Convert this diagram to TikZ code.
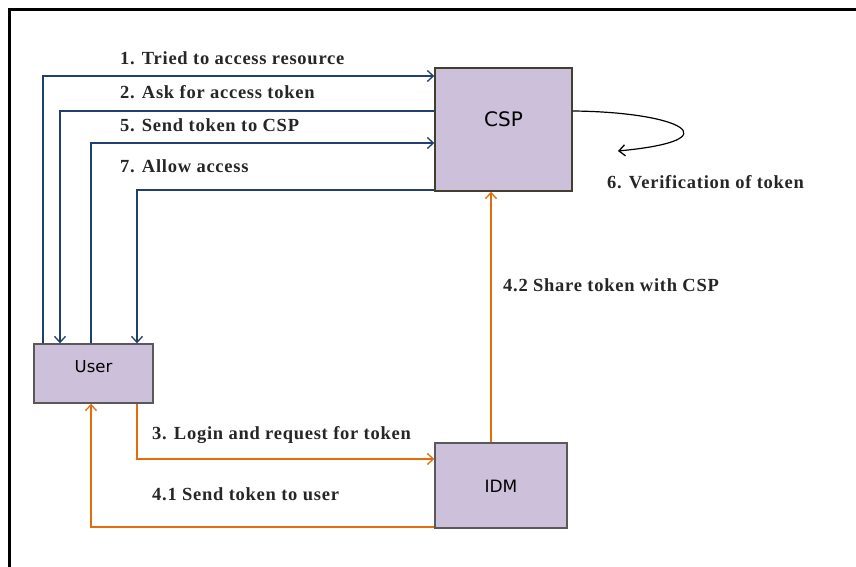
\documentclass[tikz,border=0pt]{standalone}
\usepackage{fontspec}
\setmainfont{Liberation Serif}[LetterSpace=4]
\setsansfont{DejaVu Sans}
\usetikzlibrary{arrows.meta}
\definecolor{navy}{HTML}{1F3F6E}
\definecolor{orng}{HTML}{E46C0A}
\definecolor{lav}{HTML}{CCC0DA}
\definecolor{boxedge}{HTML}{595959}
\tikzset{
  ent/.style={draw=boxedge, line width=1.4pt, fill=lav, inner sep=0pt},
  blu/.style={draw=navy, line width=1.4pt},
  ora/.style={draw=orng, line width=1.6pt},
  tip/.style={-{Straight Barb[length=6pt,width=11pt,line width=1.3pt]}},
  lbl/.style={anchor=west, inner sep=0pt, font=\bfseries\fontsize{18.5}{20}\selectfont, text=black!85}
}
\begin{document}
\begin{tikzpicture}[x=1pt,y=-1pt]
\useasboundingbox (0,0) rectangle (856,567);
% partial frame
\draw[line width=3pt] (9,567) -- (9,10) -- (860,10);
% entities
\node[ent, minimum width=137pt, minimum height=123pt, font=\sffamily\fontsize{20}{22}\selectfont, draw=black!70!olive, text height=0pt, text depth=6.4pt] (csp) at (503.5,129.5) {CSP};
\node[ent, minimum width=119pt, minimum height=59pt, font=\sffamily\fontsize{16.5}{18}\selectfont, text height=0pt, text depth=3pt] (user) at (93.5,373.5) {User};
\node[ent, minimum width=132pt, minimum height=85pt, font=\sffamily\fontsize{17}{19}\selectfont, text height=13.4pt, text depth=0pt] (idm) at (501,485.5) {IDM};
% blue flows
\draw[blu,tip] (user.north -| 43,0) |- (csp.west |- 0,76);
\draw[blu,tip] (csp.west |- 0,111) -| (user.north -| 60,0);
\draw[blu,tip] (user.north -| 91,0) |- (csp.west |- 0,143);
\draw[blu,tip] (csp.west |- 0,190) -| (user.north -| 137,0);
% self loop
\draw[line width=1.2pt, tip] (csp.east |- 0,111) .. controls (680,112) and (735,140) .. (618,151);
% orange flows
\draw[ora,tip] (idm.north -| 491,0) -- (csp.south -| 491,0);
\draw[ora,tip] (user.south -| 137,0) |- (idm.west |- 0,459);
\draw[ora,tip] (idm.west |- 0,527) -| (user.south -| 91,0);
% labels
\node[lbl] (l1) at (120,58) {1. Tried to access resource};
\node[lbl] (l2) at (120,92) {2. Ask for access token};
\node[lbl] (l5) at (120,125) {5. Send token to CSP};
\node[lbl] (l7) at (120,166) {7. Allow access};
\node[lbl] (l6) at (607,182) {6. Verification of token};
\node[lbl] (l42) at (503,285) {4.2 Share token with CSP};
\node[lbl] (l3) at (152,435) {3. Login and request for token};
\node[lbl] (l41) at (152,494) {4.1 Send token to user};
\end{tikzpicture}
\end{document}
